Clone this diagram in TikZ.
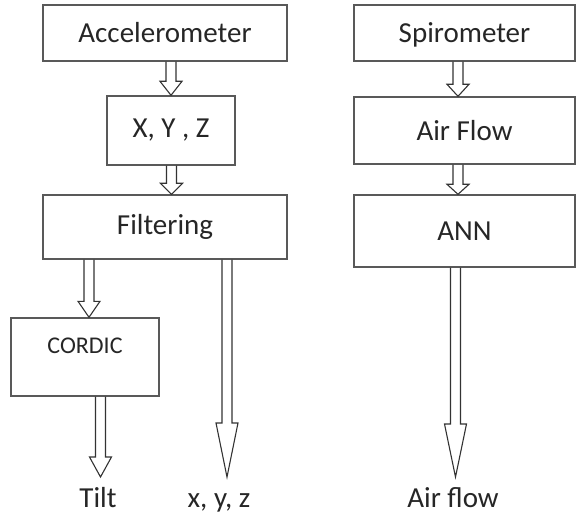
\documentclass[tikz,border=0pt]{standalone}
\usepackage{fontspec}
\setmainfont{Carlito}
\usetikzlibrary{positioning,calc}

% hollow block arrow: from node, to node, x position, head length
\newcommand{\blockarrow}[4]{%
  \draw[blk] let \p1=(#1.south), \p2=(#2.north) in
    ({#3pt-5pt},\y1) -- ({#3pt-5pt},{\y2+#4pt}) -- ({#3pt-11pt},{\y2+#4pt}) -- (#3pt,\y2)
    -- ({#3pt+11pt},{\y2+#4pt}) -- ({#3pt+5pt},{\y2+#4pt}) -- ({#3pt+5pt},\y1);
}

\begin{document}
\begin{tikzpicture}[
  x=1pt, y=-1pt,
  every node/.style={font=\fontsize{29}{34}\selectfont, text=black!85},
  box/.style={rectangle,draw=black!65,line width=1.4pt,inner sep=0pt,align=center},
  outlbl/.style={anchor=north,inner ysep=10pt,text height=20pt,text depth=6pt},
  blk/.style={draw=black!80,line width=1.1pt,line join=miter}
]
\useasboundingbox (0,0) rectangle (576,516);

% left chain
\node[box, minimum width=244pt, minimum height=56pt, text height=20pt, text depth=0pt] (acc) at (165,33) {Accelerometer};
\node[box, minimum width=128pt, minimum height=69pt] (xyz) at (171,130.5) {X, Y , Z};
\node[box, minimum width=244pt, minimum height=64pt] (filt) at (165,227) {Filtering};
\node[box, minimum width=148pt, minimum height=78pt, font=\fontsize{24}{28}\selectfont,
      text height=16pt, text depth=24pt] (cordic) at (85,357) {CORDIC};

% right chain
\node[box, minimum width=221pt, minimum height=56pt, text height=20pt, text depth=0pt] (spiro) at (464.5,33) {Spirometer};
\node[box, minimum width=221pt, minimum height=67pt] (flow) at (464.5,130.5) {Air Flow};
\node[box, minimum width=221pt, minimum height=72pt] (ann) at (464.5,231) {ANN};

% outputs
\node[outlbl] (tilt) at (98,477) {Tilt};
\node[outlbl] (xyzout) at (219,477) {x, y, z};
\node[outlbl] (airout) at (453,477) {Air flow};

\blockarrow{acc}{xyz}{171}{14}
\blockarrow{xyz}{filt}{171.5}{11}
\blockarrow{filt}{cordic}{89}{16}
\blockarrow{filt}{xyzout}{227}{54}
\blockarrow{cordic}{tilt}{100.5}{20}
\blockarrow{spiro}{flow}{458}{12}
\blockarrow{flow}{ann}{458}{10}
\blockarrow{ann}{airout}{455.5}{53}
\end{tikzpicture}
\end{document}
